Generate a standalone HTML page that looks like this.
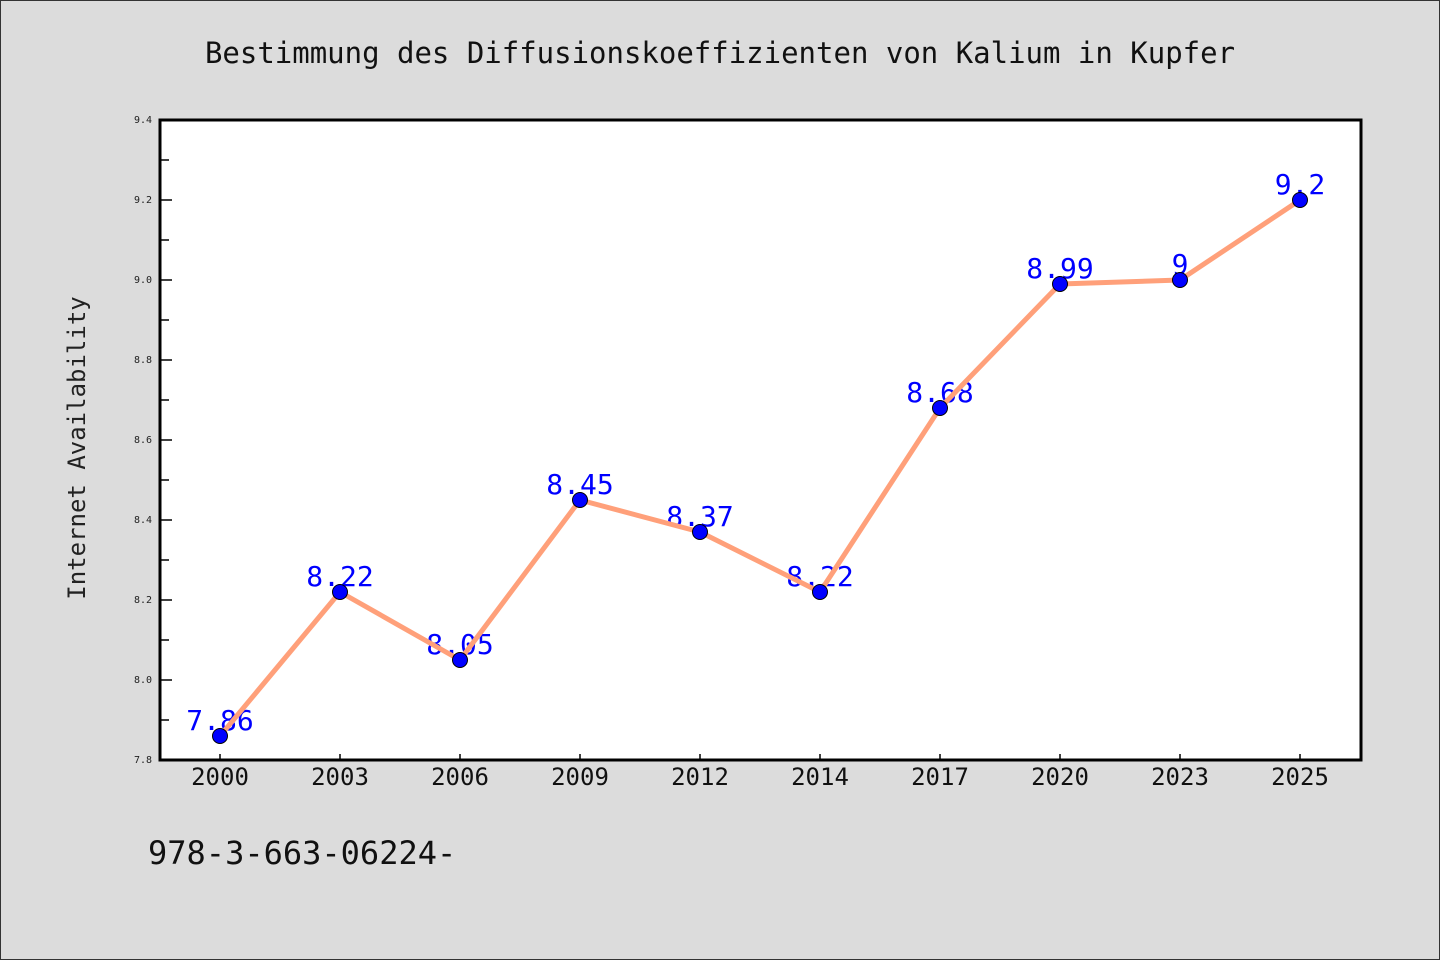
<!DOCTYPE html>
<html><head><meta charset="utf-8"><style>
html,body{margin:0;padding:0;background:#dcdcdc;}
svg{display:block;}
text{font-family:"WenQuanYi Zen Hei","DejaVu Sans Mono",monospace;}
</style></head><body>
<svg id="chart" width="1440" height="960" viewBox="0 0 1440 960">
<rect x="0.5" y="0.5" width="1439" height="959" fill="#dcdcdc" stroke="#333"/>
<text x="720" y="63" font-size="29" text-anchor="middle" fill="#111">Bestimmung des Diffusionskoeffizienten von Kalium in Kupfer</text>
<text transform="translate(85,448) rotate(-90)" font-size="24" text-anchor="middle" fill="#222">Internet Availability</text>
<text x="148" y="864" font-size="32" fill="#111">978-3-663-06224-</text>
<rect x="160" y="120" width="1201" height="640" fill="#fff"/>
<g id="grid"></g>
<g id="series"></g>
<rect x="160" y="120" width="1201" height="640" fill="none" stroke="#000" stroke-width="3"/>
</svg>
<script>
const categories = ["2000","2003","2006","2009","2012","2014","2017","2020","2023","2025"];
const values = [7.86,8.22,8.05,8.45,8.37,8.22,8.68,8.99,9,9.2];
const valueLabels = ["7.86","8.22","8.05","8.45","8.37","8.22","8.68","8.99","9","9.2"];
const yTicks = [7.8,8.0,8.2,8.4,8.6,8.8,9.0,9.2,9.4];
const yTickLabels = ["7.8","8.0","8.2","8.4","8.6","8.8","9.0","9.2","9.4"];

const NS="http://www.w3.org/2000/svg";
const L=160,R=1360,T=120,B=760,yMin=7.8,yMax=9.4;
const xS=i=>L+(i+0.5)*(R-L)/categories.length;
const yS=v=>B-(v-yMin)/(yMax-yMin)*(B-T);
function mk(tag,attrs,parent){const e=document.createElementNS(NS,tag);for(const k in attrs)e.setAttribute(k,attrs[k]);parent.appendChild(e);return e;}
const g=document.getElementById('grid'), s=document.getElementById('series');
yTicks.forEach((v,i)=>{
  const y=yS(v);
  const t=mk('line',{x1:L,x2:L+12,y1:y,y2:y,stroke:'#000','stroke-width':1.5},g);
  
  
  const lb=mk('text',{x:152,y:y+3,'font-size':10,'text-anchor':'end',fill:'#222'},g);
  lb.textContent=yTickLabels[i];
  
  
  if(i<yTicks.length-1){
    const ym=yS(v+(yTicks[1]-yTicks[0])/2);
    const m=mk('line',{x1:L,x2:L+9,y1:ym,y2:ym,stroke:'#000','stroke-width':1.5},g);
    
    
  }
});
categories.forEach((c,i)=>{
  const x=xS(i);
  const t=mk('line',{x1:x,x2:x,y1:B,y2:B-6,stroke:'#000','stroke-width':1.5},g);
  
  
  const lb=mk('text',{x:x,y:785,'font-size':24,'text-anchor':'middle',fill:'#111'},g);
  lb.textContent=c;
  
  
});
values.forEach((v,i)=>{
  const lb=mk('text',{x:xS(i),y:yS(v)-6,'font-size':28,'text-anchor':'middle',fill:'#0000ff'},s);
  lb.textContent=valueLabels[i];
  
  
});
const pl=mk('polyline',{points:values.map((v,i)=>xS(i)+','+yS(v)).join(' '),fill:'none',stroke:'#ffa07a','stroke-width':5,'stroke-linejoin':'round'},s);


values.forEach((v,i)=>{
  const c=mk('circle',{cx:xS(i),cy:yS(v),r:7.5,fill:'#0000ff',stroke:'#000','stroke-width':1},s);
  
  
});
</script>
</body></html>
